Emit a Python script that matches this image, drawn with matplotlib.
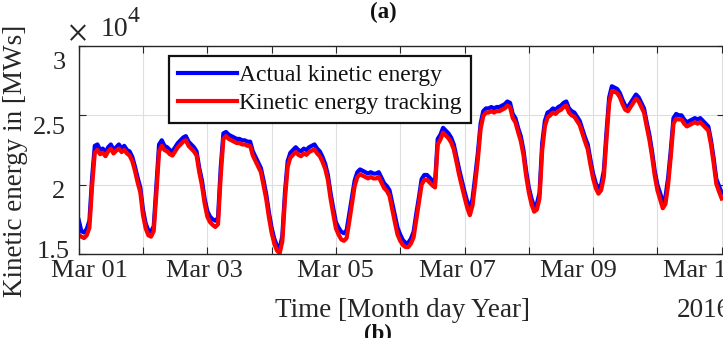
import numpy as np
import matplotlib
matplotlib.use("Agg")
import matplotlib.pyplot as plt
import matplotlib.dates as mdates
from matplotlib.transforms import ScaledTranslation

# Hourly kinetic energy, 1-11 March 2016 [MWs]
start = np.datetime64("2016-03-01T00:00")

actual_mws = [
    # Mar 01
    17450, 16650, 16550, 16800, 17400, 20500, 22800, 22900, 22500, 22600, 22300, 22700,
    22900, 22500, 22700, 22900, 22600, 22800, 22500, 22400, 22000, 21300, 20500, 19800,
    # Mar 02
    18200, 17200, 16700, 16600, 17000, 19900, 22900, 23200, 22800, 22700, 22500, 22400,
    22700, 23000, 23200, 23400, 23500, 23100, 22900, 22700, 22400, 21200, 20300, 19000,
    # Mar 03
    18100, 17700, 17500, 17400, 17600, 21200, 23700, 23800, 23600, 23500, 23400, 23300,
    23300, 23200, 23200, 23100, 23100, 22400, 22000, 21600, 21200, 20300, 19300, 18000,
    # Mar 04
    16900, 16100, 15600, 15350, 16300, 19500, 21700, 22300, 22500, 22700, 22500, 22400,
    22600, 22500, 22700, 22800, 22900, 22600, 22400, 22000, 21500, 20700, 19400, 18300,
    # Mar 05
    17300, 16900, 16600, 16500, 16700, 17900, 19100, 20300, 20900, 21100, 21000, 20900,
    20800, 20900, 20800, 20800, 20900, 20500, 20100, 19900, 19600, 18700, 17800, 16900,
    # Mar 06
    16400, 16000, 15800, 15800, 16100, 16600, 17900, 19100, 20400, 20700, 20700, 20500,
    20300, 20150, 23300, 23600, 24100, 23900, 23700, 23400, 22900, 22000, 21100, 20300,
    # Mar 07
    19500, 18800, 18200, 19000, 20600, 22300, 24400, 25300, 25500, 25500, 25600, 25500,
    25600, 25600, 25700, 25800, 26000, 25900, 25100, 24800, 24100, 23500, 22500, 21000,
    # Mar 08
    19800, 19000, 18400, 18600, 19400, 23000, 24600, 25200, 25300, 25500, 25400, 25600,
    25700, 25900, 26000, 25500, 25300, 25200, 24900, 24600, 24000, 23400, 22900, 21800,
    # Mar 09
    20800, 20100, 19700, 20000, 21000, 23800, 26300, 27100, 27000, 26900, 26600, 26100,
    25700, 25600, 25900, 26200, 26500, 26300, 25900, 25500, 24500, 23600, 22400, 21000,
    # Mar 10 (+ Mar 11 00:00)
    20000, 19400, 18800, 19100, 20500, 22500, 24800, 25100, 25000, 25000, 24700, 24500,
    24600, 24700, 24800, 24700, 24800, 24600, 24400, 24200, 23200, 21900, 20400, 19900,
    19400,
]

tracking_mws = [
    # Mar 01
    16400, 16250, 16150, 16350, 16900, 19900, 22300, 22500, 22200, 22300, 22050, 22400,
    22600, 22250, 22450, 22600, 22350, 22500, 22250, 22100, 21700, 21000, 20150, 19450,
    # Mar 02
    17800, 16850, 16350, 16250, 16650, 19400, 22400, 22800, 22500, 22400, 22200, 22100,
    22400, 22700, 22900, 23100, 23200, 22800, 22600, 22400, 22100, 20900, 19950, 18650,
    # Mar 03
    17700, 17300, 17100, 16950, 17150, 20600, 23300, 23500, 23300, 23200, 23100, 23000,
    23000, 22900, 22900, 22800, 22800, 22100, 21700, 21300, 20900, 19950, 18950, 17650,
    # Mar 04
    16550, 15750, 15250, 15050, 15900, 19000, 21300, 21950, 22150, 22350, 22150, 22050,
    22250, 22150, 22350, 22450, 22550, 22250, 22050, 21650, 21150, 20350, 19000, 17900,
    # Mar 05
    16850, 16400, 16050, 15950, 16150, 17350, 18650, 19900, 20550, 20750, 20650, 20550,
    20450, 20550, 20450, 20450, 20550, 20150, 19750, 19550, 19200, 18250, 17300, 16400,
    # Mar 06
    15950, 15650, 15500, 15500, 15750, 16200, 17450, 18700, 20000, 20350, 20350, 20150,
    19950, 19800, 22900, 23250, 23750, 23550, 23350, 23050, 22550, 21650, 20700, 19900,
    # Mar 07
    19100, 18350, 17800, 18500, 20100, 21850, 24000, 24950, 25200, 25200, 25300, 25200,
    25300, 25300, 25400, 25500, 25700, 25600, 24800, 24500, 23800, 23150, 22150, 20650,
    # Mar 08
    19450, 18600, 18050, 18200, 19000, 22500, 24200, 24850, 25000, 25200, 25100, 25300,
    25400, 25600, 25700, 25200, 25000, 24900, 24600, 24300, 23700, 23100, 22550, 21450,
    # Mar 09
    20450, 19750, 19350, 19600, 20550, 23300, 25900, 26750, 26700, 26600, 26300, 25800,
    25400, 25300, 25600, 25900, 26200, 26000, 25600, 25200, 24200, 23250, 22050, 20650,
    # Mar 10 (+ Mar 11 00:00)
    19600, 18950, 18300, 18600, 20000, 22050, 24400, 24750, 24700, 24700, 24400, 24200,
    24300, 24400, 24500, 24400, 24500, 24300, 24100, 23900, 22900, 21550, 20050, 19500,
    19000,
]

series_labels = ["Actual kinetic energy", "Kinetic energy tracking"]
day_labels = ["Mar 01", "", "Mar 03", "", "Mar 05", "", "Mar 07", "", "Mar 09", "", "Mar 11"]
y_ticks = [15000, 20000, 25000, 30000]

times = start + np.arange(len(actual_mws)) * np.timedelta64(1, "h")
day_ticks = start + np.arange(len(day_labels)) * np.timedelta64(1, "D")

plt.rcParams["font.family"] = ["Liberation Serif", "DejaVu Serif"]
ink = "#262626"

W, H = 723, 338
fig = plt.figure(figsize=(W / 100, H / 100), dpi=100)
left_px, right_px, top_px, bottom_px = 78.7, 724.0, 46.0, 254.0
ax = fig.add_axes([left_px / W, 1 - bottom_px / H,
                   (right_px - left_px) / W, (bottom_px - top_px) / H])

ax.plot(times, actual_mws, color=(0, 0, 1), lw=3.0, label=series_labels[0],
        solid_joinstyle="round")
ax.plot(times, tracking_mws, color=(1, 0, 0), lw=3.0, label=series_labels[1],
        solid_joinstyle="round")

px_per_day = 64.3
x0 = mdates.date2num(start)
ax.set_xlim(x0, x0 + (right_px - left_px) / px_per_day)
ax.set_ylim(15000, 30000)

ax.set_xticks(day_ticks)
ax.set_xticklabels(day_labels)
ax.set_yticks(y_ticks)
ax.set_yticklabels([f"{v / 1e4:g}" for v in y_ticks])

ax.grid(True, color="#dedede", lw=0.8)
ax.set_axisbelow(True)
for s in ax.spines.values():
    s.set_color(ink)
    s.set_linewidth(1.0)
ax.tick_params(direction="in", length=5, width=0.8, top=True, right=True,
               colors=ink, labelsize=19)
ax.tick_params(axis="y", pad=9.5)
ax.tick_params(axis="x", pad=4.5)


def nudge(label, dx_px, dy_px):
    label.set_transform(label.get_transform()
                        + ScaledTranslation(dx_px / 100, dy_px / 100, fig.dpi_scale_trans))


# sideways placement of the date labels
x_shifts_px = [11, 0, -3, 0, -1, 0, -7.5, 0, -15, 0, -21]
for lab, dx in zip(ax.get_xticklabels(), x_shifts_px):
    nudge(lab, dx, 0)

# vertical placement of the value labels
y_shifts_px = [(4, 4), (0, -5), (0, -10), (0, -15)]
for lab, (dx, dy) in zip(ax.get_yticklabels(), y_shifts_px):
    nudge(lab, dx, dy)

leg = ax.legend(loc="upper left", bbox_to_anchor=(169 / W, 1 - 56 / H),
                bbox_transform=fig.transFigure, fontsize=17, handlelength=2.5,
                handletextpad=0.1, borderpad=0.38, labelspacing=0.26,
                borderaxespad=0, fancybox=False, framealpha=1)
leg.get_frame().set_edgecolor("#111111")
leg.get_frame().set_linewidth(1.6)
for t in leg.get_texts():
    t.set_color("#111111")

fig.text(16 / W, 1 - 160.5 / H, "Kinetic energy in [MWs]", rotation=90,
         ha="center", va="center", fontsize=19.5, color=ink)
fig.text(402.5 / W, 1 - 317 / H, "Time [Month day Year]", ha="center",
         va="baseline", fontsize=19.5, color=ink)
fig.text(676.7 / W, 1 - 317 / H, "2016", ha="left", va="baseline",
         fontsize=19.5, color=ink)
# axis multiplier
fig.text(78 / W, 1 - 32.5 / H, "\u00d7", ha="center", va="center_baseline",
         fontsize=28, color=ink)
fig.text(101 / W, 1 - 36 / H, "10", ha="left", va="baseline",
         fontsize=20, color=ink)
fig.text(128 / W, 1 - 21.5 / H, "4", ha="left", va="baseline",
         fontsize=17, color=ink)
fig.text(383 / W, 1 - 12.5 / H, "(a)", ha="center", va="center",
         fontsize=16.5, fontweight="bold", color="#111111")
fig.text(377.5 / W, 1 - 340 / H, "(b)", ha="center", va="baseline",
         fontsize=16.5, fontweight="bold", color="#111111")

fig.savefig("out.png", dpi=100)
